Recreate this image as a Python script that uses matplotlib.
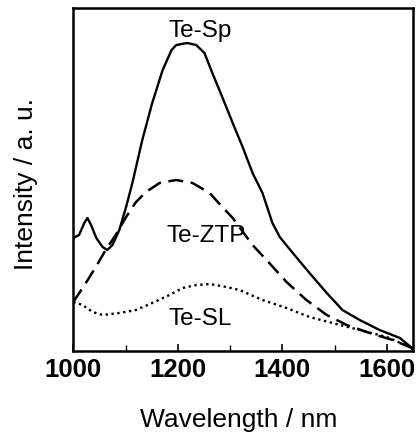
import matplotlib
matplotlib.use("Agg")
import matplotlib.pyplot as plt
from matplotlib.ticker import MultipleLocator

plt.rcParams['font.family'] = ['Liberation Sans', 'DejaVu Sans']

# Te-Sp (solid)
sp_x = [1000, 1011, 1021, 1027, 1034, 1044, 1056, 1065, 1075, 1088, 1101, 1113, 1132, 1151,
        1171, 1188, 1197, 1218, 1235, 1251, 1266, 1285, 1305, 1324, 1343, 1362, 1381, 1395,
        1420, 1452, 1485, 1515, 1548, 1586, 1625, 1648, 1650]
sp_y = [113, 116, 128, 133, 126, 113, 104, 101, 106, 121, 144, 168, 211, 248,
        281, 301, 306, 308, 306, 298, 278, 254, 228, 204, 178, 158, 128, 114,
        98, 78, 58, 41, 31, 21, 13, 3, 0]

# Te-ZTP (dashed)
ztp_x = [1000, 1024, 1043, 1062, 1081, 1101, 1120, 1139, 1165, 1197, 1228, 1261, 1285, 1305,
         1343, 1375, 1408, 1446, 1485, 1523, 1567, 1611, 1648, 1650]
ztp_y = [49, 68, 84, 101, 116, 134, 149, 159, 168, 171, 168, 158, 144, 133,
         106, 88, 69, 51, 36, 26, 18, 11, 3, 0]

# Te-SL (dotted)
sl_x = [1000, 1018, 1037, 1056, 1088, 1120, 1151, 1184, 1209, 1236, 1261, 1293, 1318, 1362,
        1408, 1452, 1496, 1548, 1600, 1648, 1650]
sl_y = [49, 46, 39, 36, 38, 41, 48, 56, 63, 66, 67, 64, 61, 51,
        43, 34, 28, 21, 14, 3, 0]

labels = ["Te-Sp", "Te-ZTP", "Te-SL"]
label_x = [1242, 1255, 1242]
label_y = [314, 109, 26]

fig = plt.figure(figsize=(4.18, 4.32), dpi=100)
ax = fig.add_axes([73.3 / 418, 81 / 432, 339.7 / 418, 343 / 432])

ax.plot(sp_x, sp_y, color='black', lw=1.7, linestyle='-')
ax.plot(ztp_x, ztp_y, color='black', lw=1.8, linestyle=(0, (6, 3)))
ax.plot(sl_x, sl_y, color='black', lw=1.7, linestyle=(0, (1, 1.5)))

for t, x, y in zip(labels, label_x, label_y):
    ax.text(x, y, t, ha='center', va='baseline', fontsize=17.5)

ax.set_xlim(1000, 1650)
ax.set_ylim(0, 343)
ax.xaxis.set_major_locator(MultipleLocator(200))
ax.xaxis.set_minor_locator(MultipleLocator(100))
ax.set_yticks([])
ax.tick_params(axis='x', which='major', direction='in', length=5, width=1.2, pad=5,
               labelsize=18.5)
ax.tick_params(axis='x', which='minor', direction='in', length=4, width=1.0)
for lab in ax.get_xticklabels():
    lab.set_fontweight('bold')
for s in ax.spines.values():
    s.set_linewidth(1.8)

ax.set_xlabel("Wavelength / nm", fontsize=19)
ax.xaxis.label.set_va('baseline')
ax.xaxis.set_label_coords(0.488, -0.2216)
ax.set_ylabel("Intensity / a. u.", fontsize=19)
ax.yaxis.set_label_coords(-0.104, 0.488)

fig.savefig("out.png", dpi=100)
